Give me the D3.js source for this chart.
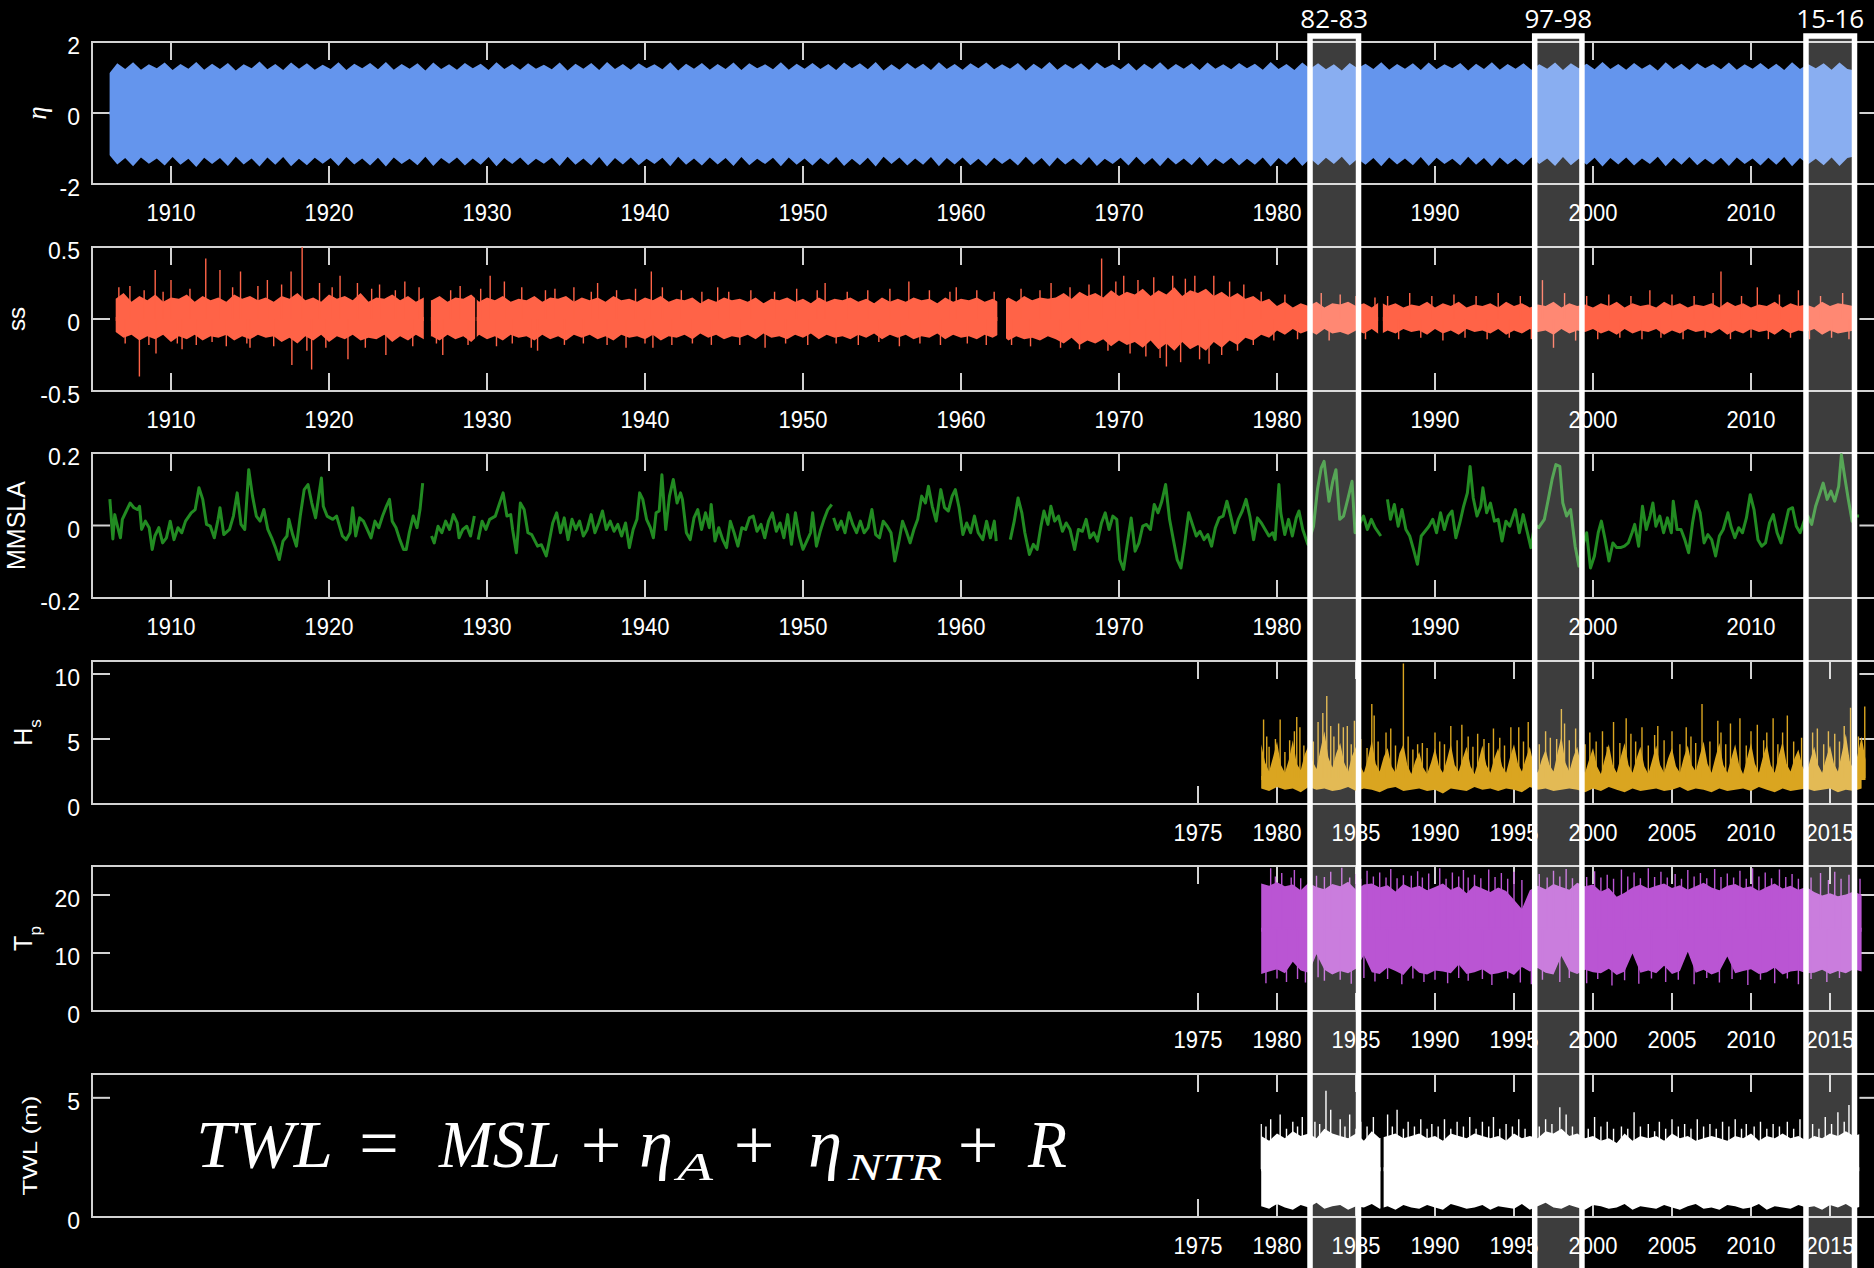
<!DOCTYPE html>
<html>
<head>
<meta charset="utf-8">
<script src="https://cdn.jsdelivr.net/npm/d3@7"></script>
<style>
  body { margin: 0; background: #000; }
  svg { display: block; }
</style>
</head>
<body>
<div id="chart"></div>
<script>
// ---- data ----

// upper axes ticks (decades) and lower axes ticks (5 yr)
var decadeTicks = [1910, 1920, 1930, 1940, 1950, 1960, 1970, 1980, 1990, 2000, 2010];
var waveTicks = [1975, 1980, 1985, 1990, 1995, 2000, 2005, 2010, 2015];

// highlighted ENSO winters
var boxLabels = ["82-83", "97-98", "15-16"];
var boxStart = [1982.09, 1996.31, 2013.48];
var boxEnd = [1985.16, 1999.30, 2016.55];

// eta (astronomical tide) envelope, half-year steps
var etaT0 = 1906.1, etaStep = 0.5, etaEnd = 2016.8;
var etaHi = [
  1.12,1.40,1.24,1.43,1.22,1.37,1.26,1.42,1.21,1.38, 1.25,1.44,1.22,1.39,1.24,1.41,1.20,1.37,1.26,1.45,
  1.23,1.38,1.21,1.42,1.25,1.40,1.22,1.36,1.24,1.43, 1.21,1.39,1.26,1.41,1.23,1.44,1.22,1.38,1.25,1.40,
  1.20,1.42,1.24,1.37,1.22,1.41,1.26,1.39,1.21,1.43, 1.24,1.38,1.22,1.40,1.25,1.36,1.23,1.42,1.20,1.39,
  1.25,1.41,1.21,1.44,1.24,1.38,1.22,1.40,1.26,1.37, 1.23,1.43,1.20,1.39,1.25,1.41,1.22,1.38,1.24,1.42,
  1.21,1.40,1.26,1.37,1.23,1.43,1.22,1.39,1.25,1.41, 1.24,1.38,1.21,1.42,1.26,1.40,1.23,1.44,1.20,1.37,
  1.22,1.41,1.25,1.39,1.21,1.43,1.24,1.38,1.22,1.40, 1.26,1.42,1.23,1.37,1.25,1.41,1.20,1.39,1.24,1.44,
  1.22,1.38,1.25,1.40,1.21,1.42,1.26,1.37,1.23,1.41, 1.20,1.39,1.24,1.43,1.22,1.38,1.25,1.40,1.21,1.42,
  1.25,1.37,1.23,1.41,1.26,1.39,1.22,1.44,1.24,1.38, 1.21,1.42,1.25,1.40,1.23,1.37,1.20,1.41,1.26,1.39,
  1.24,1.43,1.22,1.38,1.25,1.40,1.21,1.42,1.23,1.37, 1.26,1.41,1.20,1.39,1.24,1.43,1.22,1.38,1.25,1.40,
  1.22,1.37,1.25,1.42,1.21,1.40,1.26,1.39,1.23,1.44, 1.24,1.38,1.22,1.41,1.25,1.37,1.20,1.43,1.24,1.39,
  1.21,1.40,1.26,1.38,1.23,1.42,1.22,1.37,1.25,1.41, 1.23,1.39,1.21,1.43,1.24,1.38,1.26,1.40,1.22,1.42,
  1.24,1.20
];
var etaLo = [
  -1.18,-1.45,-1.27,-1.50,-1.25,-1.43,-1.28,-1.48,-1.24,-1.46, -1.29,-1.52,-1.26,-1.44,-1.27,-1.49,-1.23,-1.45,-1.28,-1.51,
  -1.25,-1.46,-1.24,-1.50,-1.29,-1.47,-1.26,-1.43,-1.27,-1.49, -1.24,-1.45,-1.28,-1.48,-1.26,-1.51,-1.25,-1.44,-1.29,-1.47,
  -1.23,-1.49,-1.27,-1.43,-1.25,-1.48,-1.28,-1.46,-1.24,-1.50, -1.27,-1.44,-1.25,-1.47,-1.29,-1.43,-1.26,-1.49,-1.23,-1.46,
  -1.28,-1.48,-1.24,-1.51,-1.27,-1.45,-1.25,-1.47,-1.29,-1.44, -1.26,-1.50,-1.23,-1.46,-1.28,-1.48,-1.25,-1.45,-1.27,-1.49,
  -1.24,-1.47,-1.29,-1.44,-1.26,-1.50,-1.25,-1.46,-1.28,-1.48, -1.27,-1.45,-1.24,-1.49,-1.29,-1.47,-1.26,-1.51,-1.23,-1.44,
  -1.25,-1.48,-1.28,-1.46,-1.24,-1.50,-1.27,-1.45,-1.25,-1.47, -1.29,-1.49,-1.26,-1.44,-1.28,-1.48,-1.23,-1.46,-1.27,-1.51,
  -1.25,-1.45,-1.28,-1.47,-1.24,-1.49,-1.29,-1.44,-1.26,-1.48, -1.23,-1.46,-1.27,-1.50,-1.25,-1.45,-1.28,-1.47,-1.24,-1.49,
  -1.28,-1.44,-1.26,-1.48,-1.29,-1.46,-1.25,-1.51,-1.27,-1.45, -1.24,-1.49,-1.28,-1.47,-1.26,-1.44,-1.23,-1.48,-1.29,-1.46,
  -1.27,-1.50,-1.25,-1.45,-1.28,-1.47,-1.24,-1.49,-1.26,-1.44, -1.29,-1.48,-1.23,-1.46,-1.27,-1.50,-1.25,-1.45,-1.28,-1.47,
  -1.25,-1.44,-1.28,-1.49,-1.24,-1.47,-1.29,-1.46,-1.26,-1.51, -1.27,-1.45,-1.25,-1.48,-1.28,-1.44,-1.23,-1.50,-1.27,-1.46,
  -1.24,-1.47,-1.29,-1.45,-1.26,-1.49,-1.25,-1.44,-1.28,-1.48, -1.26,-1.46,-1.24,-1.50,-1.27,-1.45,-1.29,-1.47,-1.25,-1.49,
  -1.27,-1.22
];

// ss (storm surge): half-year envelope + individual surge spikes
var ssT0 = 1906.5, ssStep = 0.5;
var ssSegments = [[1906.45, 1926.0], [1926.45, 1929.25], [1929.35, 1962.3], [1962.85, 1986.4], [1986.7, 2016.4]];
var ssHi = [
  0.14,0.18,0.12,0.16,0.13,0.17,0.12,0.15,0.14,0.17,0.12,0.16,0.13,0.15,0.12,0.17,0.14,0.16,0.13,0.15,
  0.12,0.16,0.14,0.18,0.13,0.15,0.12,0.17,0.14,0.16,0.13,0.18,0.12,0.15,0.14,0.17,0.13,0.16,0.12,0.15,
  0.13,0.16,0.12,0.15,0.14,0.17,0.12,0.15,0.13,0.16,0.12,0.14,0.13,0.16,0.12,0.15,0.14,0.16,0.12,0.15,
  0.13,0.15,0.12,0.16,0.13,0.14,0.12,0.15,0.13,0.16,0.12,0.14,0.13,0.15,0.11,0.14,0.12,0.15,0.13,0.14,
  0.12,0.15,0.11,0.14,0.13,0.15,0.12,0.14,0.11,0.15,0.12,0.14,0.13,0.15,0.12,0.14,0.11,0.15,0.12,0.14,
  0.12,0.15,0.13,0.14,0.11,0.15,0.12,0.14,0.13,0.15,0.12,0.14,0.11,0.15,0.12,0.16,0.13,0.15,0.14,
  0.15,0.18,0.14,0.19,0.16,0.18,0.15,0.20,0.16,0.19,0.17,0.21,0.16,0.20,0.17,0.22,0.16,0.20,0.18,0.21,
  0.16,0.19,0.15,0.18,0.14,0.16,0.12,0.14,
  0.09,0.12,0.08,0.11,0.09,0.12,0.08,0.11,0.10,0.12,0.09,0.11,0.08,0.12,0.09,0.11,0.08,0.10,0.09,0.12,
  0.08,0.11,0.09,0.12,0.08,0.10,0.09,0.11,0.08,0.12,0.09,0.11,0.08,0.10,0.09,0.12,0.08,0.11,0.09,0.10,
  0.08,0.11,0.09,0.12,0.08,0.11,0.09,0.10,0.08,0.12,0.09,0.11,0.08,0.10,0.09,0.11,0.08,0.12,0.09,0.11,
  0.08,0.10,0.09,0.12,0.08,0.11,0.09,0.10,0.08,0.12,0.09,0.11,0.10,0.09
];
var ssLo = [
  -0.09,-0.13,-0.11,-0.15,-0.12,-0.14,-0.11,-0.16,-0.12,-0.14,-0.11,-0.15,-0.12,-0.13,-0.11,-0.15,-0.12,-0.14,-0.11,-0.13,
  -0.12,-0.16,-0.13,-0.17,-0.12,-0.15,-0.11,-0.16,-0.12,-0.14,-0.11,-0.15,-0.13,-0.14,-0.11,-0.16,-0.12,-0.15,-0.11,-0.14,
  -0.12,-0.15,-0.11,-0.14,-0.12,-0.16,-0.11,-0.14,-0.12,-0.15,-0.11,-0.13,-0.12,-0.15,-0.11,-0.14,-0.12,-0.15,-0.11,-0.13,
  -0.11,-0.14,-0.12,-0.15,-0.11,-0.13,-0.12,-0.14,-0.11,-0.15,-0.12,-0.13,-0.11,-0.14,-0.10,-0.13,-0.11,-0.14,-0.12,-0.13,
  -0.11,-0.14,-0.10,-0.13,-0.12,-0.14,-0.11,-0.13,-0.10,-0.14,-0.11,-0.13,-0.12,-0.14,-0.11,-0.13,-0.10,-0.14,-0.11,-0.13,
  -0.11,-0.14,-0.12,-0.13,-0.10,-0.14,-0.11,-0.13,-0.12,-0.14,-0.11,-0.13,-0.10,-0.15,-0.12,-0.14,-0.13,-0.15,-0.12,
  -0.14,-0.17,-0.13,-0.18,-0.15,-0.17,-0.14,-0.19,-0.15,-0.18,-0.16,-0.20,-0.15,-0.21,-0.17,-0.22,-0.16,-0.21,-0.18,-0.22,
  -0.16,-0.20,-0.15,-0.18,-0.13,-0.15,-0.11,-0.13,
  -0.08,-0.11,-0.07,-0.10,-0.08,-0.11,-0.07,-0.10,-0.09,-0.11,-0.08,-0.10,-0.07,-0.11,-0.08,-0.10,-0.07,-0.09,-0.08,-0.11,
  -0.07,-0.10,-0.08,-0.11,-0.07,-0.09,-0.08,-0.10,-0.07,-0.11,-0.08,-0.10,-0.07,-0.09,-0.08,-0.11,-0.07,-0.10,-0.08,-0.09,
  -0.07,-0.10,-0.08,-0.11,-0.07,-0.10,-0.08,-0.09,-0.07,-0.11,-0.08,-0.10,-0.07,-0.09,-0.08,-0.10,-0.07,-0.11,-0.08,-0.10,
  -0.07,-0.09,-0.08,-0.11,-0.07,-0.10,-0.08,-0.09,-0.07,-0.11,-0.08,-0.10,-0.09,-0.08
];
var ssSpikes = [
  [1906.7,0.22],[1907.1,-0.17],[1907.4,0.23],[1908.0,-0.40],[1908.3,0.20],[1908.6,-0.18],[1909.0,0.34],[1909.05,-0.24],
  [1909.5,0.19],[1910.0,0.27],[1910.4,-0.17],[1910.7,-0.21],[1911.2,0.21],[1911.6,-0.18],[1912.2,0.42],[1912.6,-0.16],
  [1913.1,0.34],[1913.5,-0.19],[1913.9,0.22],[1914.4,0.33],[1914.8,-0.17],[1915.0,-0.20],[1915.5,0.23],[1916.1,0.27],
  [1916.5,-0.19],[1917.0,0.24],[1917.6,0.33],[1917.65,-0.32],[1918.3,0.50],[1918.6,-0.22],[1918.9,-0.35],[1919.4,0.25],
  [1919.8,-0.20],[1920.2,0.22],[1920.7,0.30],[1921.2,-0.28],[1921.8,0.25],[1922.3,-0.20],[1922.7,0.21],[1923.2,0.24],
  [1923.6,-0.25],[1924.2,0.20],[1924.8,0.26],[1925.3,-0.19],[1925.7,0.22],
  [1926.8,-0.17],[1927.2,-0.25],[1927.7,0.20],[1928.3,0.23],[1928.8,-0.18],[1929.6,0.21],[1930.2,0.30],[1930.6,-0.19],
  [1931.1,0.26],[1931.6,-0.17],[1932.2,0.22],[1932.8,-0.20],[1933.2,-0.22],[1933.7,0.20],[1934.3,0.21],[1934.9,-0.18],
  [1935.5,0.22],[1936.1,-0.17],[1936.6,0.19],[1937.0,0.25],[1937.6,-0.18],[1938.2,0.20],[1938.8,-0.20],[1939.4,0.21],
  [1940.0,-0.17],[1940.4,0.33],[1940.5,-0.20],[1941.1,0.22],[1941.7,-0.18],[1942.3,0.20],[1943.0,-0.17],[1943.6,0.19],
  [1944.2,-0.18],[1944.6,0.22],[1945.3,0.19],[1946.0,-0.18],[1946.7,0.20],[1947.6,-0.20],[1948.2,0.19],[1948.9,-0.17],
  [1949.6,0.21],[1950.3,-0.18],[1950.9,0.20],[1951.4,0.25],[1952.1,-0.17],[1952.8,0.19],[1953.5,-0.18],[1954.1,0.20],
  [1954.8,-0.16],[1955.5,0.21],[1956.1,-0.19],[1956.7,0.26],[1957.4,-0.17],[1958.0,0.20],[1958.7,-0.18],[1959.3,0.19],
  [1959.7,0.22],[1960.4,-0.17],[1961.0,0.20],[1961.6,-0.18],[1962.1,0.19],
  [1963.2,-0.18],[1963.8,0.21],[1964.4,-0.19],[1965.0,0.20],[1965.7,0.25],[1966.3,-0.20],[1966.9,0.22],[1967.5,-0.21],
  [1968.1,0.24],[1968.9,0.42],[1969.3,-0.22],[1969.8,0.26],[1970.3,0.30],[1970.7,-0.24],[1971.2,0.27],[1971.7,-0.26],
  [1972.2,0.29],[1972.6,-0.27],[1973.0,-0.33],[1973.4,0.30],[1973.9,-0.30],[1974.2,0.28],[1974.8,0.30],[1975.1,-0.28],
  [1975.7,-0.31],[1976.0,0.30],[1976.5,-0.25],[1977.0,0.26],[1977.5,-0.22],[1977.9,0.24],[1978.5,-0.18],[1979.0,0.19],
  [1979.8,-0.15],[1980.5,0.17],[1981.3,-0.14],[1982.0,0.16],[1982.8,0.18],[1983.3,-0.15],[1984.0,0.17],[1985.0,0.16],
  [1985.6,-0.14],[1986.2,0.15],
  [1987.0,0.16],[1987.7,-0.14],[1988.4,0.18],[1989.1,-0.13],[1989.8,0.16],[1990.5,-0.15],[1991.2,0.17],[1991.9,-0.13],
  [1992.6,0.16],[1993.3,-0.14],[1994.0,0.18],[1994.7,-0.13],[1995.4,0.16],[1996.1,-0.14],[1996.8,0.27],[1997.5,-0.20],
  [1998.2,0.18],[1998.9,-0.15],[1999.6,0.16],[2000.3,-0.14],[2001.0,0.17],[2001.7,-0.13],[2002.4,0.16],[2003.1,-0.14],
  [2003.6,0.20],[2004.3,-0.13],[2005.0,0.17],[2005.7,-0.14],[2006.4,0.16],[2007.1,-0.13],[2007.6,0.18],[2008.1,0.33],
  [2008.7,-0.14],[2009.4,0.16],[2010.0,-0.13],[2010.4,0.22],[2011.1,-0.14],[2011.8,0.17],[2012.5,-0.13],[2013.0,0.20],
  [2013.7,-0.14],[2014.4,0.16],[2015.1,-0.13],[2015.8,0.18],[2016.2,-0.14]
];

// MMSLA (monthly mean sea level anomaly), [year, value]; null marks a data gap
var mmsla = [
  [1906.13,0.073],[1906.32,-0.037],[1906.44,0.030],[1906.56,0.007],[1906.80,-0.034],[1906.92,0.017],[1907.17,0.040],[1907.41,0.062],
  [1907.65,0.049],[1907.89,0.044],[1908.01,0.053],[1908.14,-0.011],[1908.38,0.012],[1908.62,-0.006],[1908.81,-0.066],[1908.98,-0.029],
  [1909.23,-0.006],[1909.47,-0.048],[1909.71,-0.034],[1909.95,0.012],[1910.19,-0.039],[1910.44,-0.006],[1910.68,-0.020],[1910.92,0.012],
  [1911.28,0.035],[1911.53,0.044],[1911.77,0.104],[1912.01,0.072],[1912.25,0.003],[1912.49,-0.002],[1912.74,-0.034],[1912.98,0.017],
  [1913.10,0.049],[1913.34,-0.025],[1913.70,-0.011],[1913.95,0.026],[1914.19,0.090],[1914.43,0.003],[1914.67,-0.011],[1914.92,0.154],
  [1915.16,0.081],[1915.40,0.026],[1915.64,0.012],[1915.88,0.044],[1916.13,-0.011],[1916.37,-0.034],[1916.61,-0.061],[1916.85,-0.094],
  [1917.09,-0.043],[1917.34,-0.029],[1917.46,0.017],[1917.70,-0.025],[1917.94,-0.057],[1918.18,0.026],[1918.43,0.099],[1918.67,0.113],
  [1918.91,0.062],[1919.15,0.021],[1919.52,0.131],[1919.64,0.053],[1919.88,0.026],[1920.24,0.017],[1920.48,0.026],[1920.85,-0.029],
  [1921.09,-0.039],[1921.33,-0.020],[1921.50,0.049],[1921.69,-0.029],[1921.94,0.021],[1922.18,0.012],[1922.42,-0.011],[1922.66,-0.034],
  [1922.91,0.012],[1923.15,-0.006],[1923.39,0.026],[1923.63,0.053],[1923.83,0.072],[1924.00,0.012],[1924.24,-0.006],[1924.48,-0.039],
  [1924.72,-0.066],[1924.89,-0.066],[1925.08,-0.020],[1925.33,0.026],[1925.57,-0.006],[1925.76,0.044],[1925.93,0.117],[1926.2,null],
  [1926.49,-0.029],[1926.66,-0.048],[1926.90,-0.002],[1927.14,-0.020],[1927.38,0.012],[1927.63,-0.011],[1927.87,0.030],[1928.11,0.007],
  [1928.23,-0.034],[1928.47,-0.011],[1928.72,-0.002],[1928.96,-0.029],[1929.20,0.026],[1929.32,null],[1929.44,-0.039],[1929.69,0.012],
  [1929.93,-0.011],[1930.17,0.017],[1930.53,0.026],[1930.77,0.058],[1931.02,0.090],[1931.26,0.026],[1931.50,0.030],[1931.62,-0.011],
  [1931.86,-0.075],[1932.11,0.062],[1932.35,0.044],[1932.59,-0.020],[1932.83,-0.025],[1933.20,-0.057],[1933.44,-0.053],[1933.75,-0.084],
  [1933.92,-0.048],[1934.16,0.007],[1934.41,0.035],[1934.65,-0.020],[1934.89,0.021],[1935.13,-0.039],[1935.38,0.017],[1935.62,-0.011],
  [1935.86,0.012],[1936.10,-0.029],[1936.34,-0.011],[1936.59,0.030],[1936.83,-0.020],[1937.07,0.007],[1937.31,0.040],[1937.55,-0.011],
  [1937.80,0.012],[1938.04,-0.016],[1938.28,0.003],[1938.52,-0.029],[1938.77,0.007],[1939.01,-0.061],[1939.25,-0.011],[1939.49,0.017],
  [1939.66,0.090],[1939.86,0.072],[1940.10,0.017],[1940.34,-0.006],[1940.53,-0.034],[1940.70,0.035],[1940.90,0.040],[1941.07,0.140],
  [1941.31,-0.011],[1941.55,0.081],[1941.79,0.127],[1942.03,0.062],[1942.25,0.090],[1942.37,0.072],[1942.62,-0.020],[1942.86,-0.039],
  [1943.10,0.021],[1943.34,0.044],[1943.58,-0.011],[1943.83,0.035],[1944.07,-0.006],[1944.19,0.058],[1944.43,-0.043],[1944.67,-0.006],
  [1944.92,-0.039],[1945.16,-0.061],[1945.40,0.012],[1945.64,-0.020],[1945.88,-0.057],[1946.13,-0.006],[1946.37,-0.011],[1946.61,0.021],
  [1946.85,0.026],[1947.09,-0.016],[1947.34,0.003],[1947.58,-0.034],[1947.82,0.012],[1948.06,0.035],[1948.31,-0.016],[1948.55,0.007],
  [1948.79,-0.034],[1949.03,0.030],[1949.27,-0.052],[1949.52,0.035],[1949.76,-0.029],[1950.00,-0.066],[1950.24,-0.043],[1950.48,-0.020],
  [1950.61,0.035],[1950.85,-0.057],[1951.09,-0.016],[1951.33,0.017],[1951.57,0.044],[1951.82,0.058],[1951.88,null],[1951.94,0.021],
  [1952.18,-0.011],[1952.42,0.012],[1952.66,-0.020],[1952.91,0.035],[1953.15,0.003],[1953.39,-0.020],[1953.63,0.012],[1953.87,-0.020],
  [1954.12,-0.006],[1954.36,0.044],[1954.60,-0.025],[1954.84,-0.034],[1955.08,0.012],[1955.33,-0.002],[1955.57,-0.020],[1955.81,-0.098],
  [1956.05,-0.048],[1956.30,0.012],[1956.54,-0.016],[1956.78,-0.048],[1957.02,-0.011],[1957.26,0.017],[1957.51,0.081],[1957.75,0.062],
  [1957.94,0.108],[1958.18,0.053],[1958.43,0.012],[1958.72,0.099],[1958.96,0.049],[1959.20,0.040],[1959.44,0.081],[1959.64,0.099],
  [1959.88,0.049],[1960.12,-0.025],[1960.36,0.007],[1960.61,-0.020],[1960.85,0.026],[1961.09,-0.020],[1961.38,-0.039],[1961.62,0.012],
  [1961.86,-0.034],[1962.11,0.012],[1962.23,-0.043],[1962.6,null],[1963.12,-0.039],[1963.37,0.012],[1963.61,0.076],[1963.85,0.035],
  [1964.04,-0.020],[1964.33,-0.080],[1964.58,-0.052],[1964.82,-0.066],[1965.06,-0.002],[1965.25,0.040],[1965.50,0.003],[1965.69,0.053],
  [1965.93,0.012],[1966.17,0.026],[1966.42,-0.016],[1966.66,0.007],[1966.90,-0.011],[1967.19,-0.066],[1967.43,-0.011],[1967.68,-0.016],
  [1967.92,0.017],[1968.16,-0.034],[1968.40,-0.020],[1968.64,-0.043],[1968.89,0.007],[1969.13,0.035],[1969.37,-0.011],[1969.61,0.026],
  [1969.86,0.017],[1970.05,-0.094],[1970.29,-0.121],[1970.53,-0.048],[1970.77,0.021],[1971.02,-0.071],[1971.26,-0.048],[1971.50,-0.002],
  [1971.74,0.003],[1971.99,-0.011],[1972.23,0.058],[1972.47,0.035],[1972.71,0.067],[1972.95,0.113],[1973.20,0.017],[1973.44,-0.039],
  [1973.68,-0.094],[1973.92,-0.117],[1974.16,-0.048],[1974.41,0.035],[1974.65,0.003],[1974.89,-0.029],[1975.13,-0.016],[1975.38,-0.039],
  [1975.62,-0.025],[1975.86,-0.057],[1976.10,-0.006],[1976.34,0.021],[1976.59,0.026],[1976.83,0.067],[1977.07,0.026],[1977.31,-0.020],
  [1977.55,0.017],[1977.80,0.040],[1978.04,0.072],[1978.28,0.026],[1978.52,-0.039],[1978.76,0.021],[1979.01,0.007],[1979.25,-0.011],
  [1979.49,-0.029],[1979.73,-0.020],[1979.88,-0.039],[1980.12,0.113],[1980.24,0.035],[1980.49,-0.025],[1980.73,0.017],[1980.97,-0.029],
  [1981.22,0.021],[1981.39,0.040],[1981.63,-0.011],[1981.95,-0.052],[1982.31,-0.002],[1982.56,0.099],[1982.80,0.159],[1982.98,0.177],
  [1983.29,0.067],[1983.53,0.122],[1983.73,0.154],[1983.97,0.017],[1984.21,0.026],[1984.50,0.076],[1984.75,0.122],[1984.94,-0.020],
  [1985.19,0.003],[1985.48,0.026],[1985.72,-0.011],[1985.97,0.017],[1986.21,-0.006],[1986.57,-0.029],[1986.8,null],[1986.99,0.072],
  [1987.18,0.017],[1987.43,0.058],[1987.67,-0.002],[1987.91,0.044],[1988.16,-0.011],[1988.40,-0.029],[1988.64,-0.066],[1988.89,-0.107],
  [1989.13,-0.029],[1989.37,-0.016],[1989.62,-0.002],[1989.86,0.017],[1990.10,-0.020],[1990.35,0.035],[1990.59,-0.011],[1990.83,0.026],
  [1991.08,0.040],[1991.32,-0.034],[1991.57,0.007],[1991.81,0.053],[1992.05,0.090],[1992.22,0.163],[1992.42,0.076],[1992.66,0.026],
  [1992.90,0.053],[1993.03,0.104],[1993.27,0.035],[1993.51,0.062],[1993.76,0.012],[1994.00,0.017],[1994.24,-0.043],[1994.49,0.012],
  [1994.73,-0.002],[1995.09,0.044],[1995.34,-0.020],[1995.58,0.030],[1995.83,-0.016],[1996.07,-0.061],[1996.31,0.003],[1996.56,-0.006],
  [1996.92,0.017],[1997.17,0.072],[1997.41,0.127],[1997.65,0.168],[1997.90,0.163],[1998.09,0.062],[1998.33,0.026],[1998.58,0.044],
  [1998.87,-0.057],[1999.11,-0.112],[1999.24,-0.071],[1999.60,-0.020],[1999.84,-0.117],[2000.09,-0.084],[2000.33,-0.020],[2000.53,0.012],
  [2000.77,-0.039],[2001.01,-0.098],[2001.26,-0.048],[2001.50,-0.061],[2001.74,-0.061],[2001.99,-0.057],[2002.23,-0.048],[2002.47,-0.020],
  [2002.64,0.003],[2002.89,-0.057],[2003.13,0.053],[2003.37,-0.011],[2003.61,0.026],[2003.79,0.062],[2003.98,-0.002],[2004.23,0.026],
  [2004.47,-0.020],[2004.71,0.021],[2004.96,-0.020],[2005.08,0.067],[2005.32,-0.011],[2005.57,-0.011],[2005.81,-0.039],[2006.05,-0.075],
  [2006.30,0.007],[2006.54,0.067],[2006.78,0.035],[2007.03,-0.048],[2007.27,-0.025],[2007.51,-0.039],[2007.76,-0.084],[2008.00,-0.029],
  [2008.24,-0.011],[2008.54,0.035],[2008.73,-0.002],[2008.98,-0.034],[2009.22,-0.006],[2009.46,-0.020],[2009.71,0.021],[2009.95,0.085],
  [2010.19,0.044],[2010.44,-0.039],[2010.68,-0.057],[2010.92,-0.048],[2011.17,0.007],[2011.41,0.030],[2011.65,-0.020],[2011.90,-0.048],
  [2012.14,-0.002],[2012.38,0.044],[2012.63,0.049],[2012.87,-0.002],[2013.11,-0.020],[2013.36,0.012],[2013.60,0.026],[2013.84,0.003],
  [2014.09,0.053],[2014.33,0.085],[2014.57,0.117],[2014.82,0.072],[2015.06,0.095],[2015.30,0.067],[2015.55,0.108],[2015.72,0.195],
  [2015.91,0.140],[2016.16,0.072],[2016.40,0.012],[2016.64,0.026],[2016.84,0.026]
];

// Hs (significant wave height): quarter-year upper envelope, half-year lower envelope, storm peaks
var hsT0 = 1979.0, hsHiStep = 0.25, hsLoStep = 0.5, hsEnd = 2017.3;
var hsHi = [
  4.6,3.2,2.5,3.6, 4.8,3.0,2.4,3.4, 4.9,3.1,2.6,3.8, 4.5,3.3,2.7,4.2, 5.6,3.6,2.8,3.9,
  4.7,3.2,2.5,3.7, 4.4,3.0,2.4,3.5, 4.9,3.1,2.5,3.6, 4.3,2.9,2.4,3.9, 4.6,3.0,2.3,3.3,
  4.0,2.8,2.3,3.2, 4.3,2.9,2.4,3.4, 4.6,3.0,2.5,3.5, 4.4,2.9,2.3,3.3, 4.5,3.0,2.4,3.5,
  4.3,2.9,2.4,3.6, 4.6,3.1,2.5,3.5, 4.4,3.0,2.4,3.4, 4.2,3.0,2.5,3.9, 5.2,3.2,2.5,3.6,
  4.4,2.9,2.4,3.4, 4.3,2.9,2.3,3.5, 4.6,3.0,2.4,3.6, 4.7,3.0,2.4,3.5, 4.4,2.9,2.3,3.4,
  4.5,3.0,2.4,3.5, 4.3,2.9,2.4,3.6, 4.5,3.0,2.5,3.7, 4.8,3.1,2.4,3.6, 4.7,3.0,2.4,3.5,
  4.6,3.0,2.3,3.5, 4.7,3.1,2.4,3.6, 4.6,3.0,2.4,3.7, 4.8,3.1,2.5,3.5, 4.2,2.9,2.3,3.4,
  4.4,3.0,2.4,3.5, 4.5,3.1,2.5,3.9, 5.4,3.3,2.6,3.8, 5.2,3.4
];
var hsLo = [
  1.2,1.0,1.3,1.1,1.2,0.9,1.3,1.1,1.2,1.0, 1.1,1.3,1.0,1.2,1.1,0.9,1.2,1.3,1.0,1.1,
  1.2,1.0,1.1,0.8,1.2,1.1,1.0,1.3,1.1,1.2, 1.0,1.2,1.1,0.9,1.3,1.1,1.2,1.0,1.1,1.2,
  1.1,0.9,1.2,1.0,1.3,1.1,0.9,1.2,1.0,1.1, 1.2,1.0,1.1,1.3,1.0,1.2,1.1,0.9,1.2,1.0,
  1.1,1.2,1.0,1.3,1.1,0.9,1.2,1.0,1.1,1.2, 1.0,1.1,1.2,0.9,1.1,1.0,1.2
];
var hsSpikes = [
  [1979.15,6.5],[1979.35,5.2],[1979.9,5.0],[1980.2,6.5],[1980.8,4.9],[1981.1,5.6],[1981.25,6.7],[1981.45,5.9],
  [1982.0,5.3],[1982.6,6.3],[1982.9,7.0],[1983.15,8.3],[1983.4,6.0],[1983.9,6.2],[1984.2,5.9],[1984.45,6.0],
  [1984.9,6.4],[1985.3,5.0],[1986.0,7.7],[1986.15,6.8],[1986.9,5.5],[1987.2,5.8],[1988.0,10.8],[1988.3,5.2],
  [1988.9,4.6],[1989.2,4.7],[1990.0,5.5],[1990.3,4.8],[1991.0,6.0],[1991.7,6.1],[1992.1,5.2],[1992.7,5.4],
  [1993.1,5.0],[1993.7,5.8],[1994.1,5.1],[1994.8,5.9],[1995.3,5.9],[1995.9,6.3],[1996.2,5.4],[1997.0,5.6],
  [1997.3,5.1],[1998.0,7.3],[1998.2,6.2],[1998.9,5.8],[1999.2,5.0],[1999.8,5.5],[2000.6,5.6],[2001.3,6.3],
  [2002.1,6.6],[2002.4,5.4],[2003.1,5.9],[2003.9,5.3],[2004.1,6.0],[2005.0,5.6],[2005.9,5.9],[2006.2,5.2],
  [2006.9,7.7],[2007.9,6.4],[2008.1,5.5],[2008.7,6.2],[2009.3,6.6],[2010.0,5.6],[2010.4,6.1],[2011.0,5.5],
  [2011.4,6.6],[2012.0,5.5],[2012.3,6.8],[2013.2,5.1],[2013.9,5.5],[2014.2,5.8],[2014.9,5.6],[2015.3,5.4],
  [2015.9,6.0],[2016.3,7.4],[2016.5,6.1],[2017.2,7.5],
  [1979.5,4.4],[1980.5,4.0],[1981.7,4.5],[1982.3,4.8],[1983.6,5.2],[1984.7,4.6],[1985.7,4.3],[1986.4,4.8],
  [1987.5,4.5],[1988.6,4.2],[1989.5,4.3],[1990.6,4.6],[1991.4,4.9],[1992.4,4.4],[1993.4,4.7],[1994.4,4.5],
  [1995.6,4.8],[1996.6,4.6],[1997.7,5.0],[1998.5,4.9],[1999.5,4.6],[2000.2,4.8],[2000.9,4.4],[2001.7,4.7],
  [2002.7,4.8],[2003.5,4.5],[2004.5,4.9],[2005.5,4.6],[2006.5,4.7],[2007.4,4.8],[2008.4,4.6],[2009.7,4.5],
  [2010.8,4.9],[2011.7,4.6],[2012.7,4.8],[2013.5,4.3],[2014.6,4.6],[2015.6,4.8],[2016.8,5.2]
];

// Tp (peak period): half-year envelopes + extremes
var tpT0 = 1979.0, tpStep = 0.5, tpEnd = 2017.3;
var tpHi = [
  22.0,21.6,22.2,21.5,21.8,20.8,22.1,21.4,21.0,21.9, 21.5,22.3,20.9,21.8,22.0,21.3,21.7,20.6,21.9,21.2,
  21.6,20.8,21.4,22.0,20.9,21.5,20.3,21.7,21.1,20.5, 21.3,20.7,19.2,17.6,20.8,21.6,21.0,21.9,21.4,20.9,
  22.1,21.5,21.8,20.6,21.2,19.7,20.4,21.3,21.8,21.1, 21.6,22.0,21.2,21.7,20.9,21.5,22.1,21.3,20.8,21.6,
  21.9,21.2,21.5,20.7,21.4,22.0,21.1,21.6,20.9,21.4, 20.5,19.9,20.3,19.8,20.1,20.6,20.0
];
var tpLo = [
  6.4,6.8,7.2,6.5,8.5,7.0,6.6,9.8,7.1,6.3, 6.9,6.5,7.3,9.6,6.7,6.4,7.5,6.9,6.2,7.8,
  6.6,6.3,7.0,6.8,6.5,8.0,6.4,6.7,7.2,6.3, 6.5,6.9,6.2,7.6,6.8,7.4,6.6,6.3,9.5,6.9,
  6.4,7.1,6.7,6.5,7.3,6.2,6.8,9.9,6.6,7.0, 6.5,7.8,6.4,6.9,10.2,6.6,7.1,6.3,6.8,9.4,
  6.5,6.9,7.2,6.4,6.7,7.5,6.3,6.8,7.0,6.5, 6.6,7.1,6.4,6.9,6.5,7.2,6.8
];
var tpSpikes = [
  [1979.6,24.6],[1980.3,23.8],[1981.1,24.3],[1982.0,23.5],[1983.4,24.0],[1984.1,24.7],[1985.0,23.6],[1985.7,24.2],
  [1986.5,23.9],[1987.2,24.5],[1988.0,23.4],[1988.9,24.1],[1989.6,23.7],[1990.3,24.6],[1991.1,23.9],[1991.8,24.3],
  [1992.5,23.5],[1993.4,24.4],[1994.2,23.8],[1995.0,24.0],[1996.6,23.6],[1997.5,24.2],[1998.3,24.5],[1999.2,23.7],
  [2000.1,24.1],[2000.9,23.5],[2001.8,24.4],[2002.6,23.9],[2003.5,24.6],[2004.3,24.0],[2005.2,23.6],[2006.0,24.3],
  [2006.8,23.8],[2007.7,24.5],[2008.5,23.7],[2009.3,24.2],[2010.1,24.6],[2010.9,23.9],[2011.8,24.4],[2012.6,23.6],
  [2013.4,24.1],[2014.4,23.8],[2015.3,24.0],[2016.2,23.5],[2016.9,22.8],
  [1979.9,23.2],[1980.9,23.0],[1981.5,22.9],[1982.5,23.3],[1983.0,23.1],[1984.6,23.0],[1985.3,22.8],[1986.1,23.2],
  [1986.9,23.0],[1987.6,22.9],[1988.5,23.3],[1989.2,23.0],[1990.7,22.8],[1991.5,23.2],[1992.1,23.0],[1992.9,22.9],
  [1993.8,23.1],[1994.6,22.8],[1995.5,22.6],[1997.1,23.0],[1997.9,23.2],[1998.7,22.9],[1999.6,23.1],[2000.5,23.0],
  [2001.3,22.8],[2002.2,23.2],[2003.0,22.9],[2003.9,23.1],[2004.7,23.0],[2005.6,22.8],[2006.4,23.2],[2007.2,22.9],
  [2008.1,23.1],[2008.9,23.0],[2009.7,22.8],[2010.5,23.2],[2011.3,22.9],[2012.2,23.1],[2013.0,22.8],[2013.8,23.0],
  [2014.9,22.6],[2015.7,22.8],[2016.5,22.5],
  [1979.3,4.8],[1980.6,5.0],[1981.8,4.9],[1983.0,5.2],[1984.7,4.7],[1986.2,5.1],[1987.9,4.6],[1989.3,5.0],
  [1990.8,4.8],[1992.1,5.2],[1993.6,4.5],[1995.4,4.9],[1996.1,4.6],[1997.9,5.0],[1999.6,4.8],[2001.2,4.4],
  [2002.9,4.7],[2004.6,5.0],[2006.4,4.6],[2008.0,4.9],[2009.8,4.5],[2011.5,4.8],[2013.0,4.6],[2014.8,5.0],[2016.5,4.7],
  [1980.0,5.6],[1981.3,5.5],[1982.6,5.8],[1984.0,5.4],[1985.5,5.7],[1987.0,5.5],[1988.6,5.6],[1990.0,5.4],
  [1991.5,5.7],[1993.0,5.5],[1994.6,5.6],[1996.8,5.4],[1998.5,5.7],[2000.3,5.5],[2002.0,5.3],[2003.7,5.6],
  [2005.4,5.4],[2007.2,5.7],[2008.8,5.5],[2010.6,5.4],[2012.3,5.6],[2013.8,5.5],[2015.6,5.7]
];

// TWL (total water level): half-year envelopes + peaks
var twlT0 = 1979.0, twlStep = 0.5;
var twlSegments = [[1978.95, 1986.55], [1986.75, 2016.85]];
var twlHi = [
  3.4,3.2,3.5,3.3,3.6,3.4,3.5,3.3,3.7,3.5, 3.4,3.3,3.5,3.2,3.6,3.3,3.4,3.5,3.3,3.4,
  3.5,3.3,3.4,3.2,3.5,3.4,3.3,3.5,3.4,3.3, 3.4,3.2,3.5,3.3,3.4,3.3,3.6,3.5,3.7,3.4,
  3.5,3.3,3.4,3.2,3.3,3.1,3.5,3.2,3.4,3.3, 3.4,3.2,3.5,3.3,3.4,3.2,3.3,3.4,3.3,3.2,
  3.4,3.3,3.5,3.2,3.4,3.3,3.5,3.3,3.4,3.2, 3.4,3.3,3.5,3.4,3.6,3.4,3.5
];
var twlLo = [
  0.45,0.35,0.55,0.40,0.30,0.50,0.40,0.60,0.35,0.45, 0.50,0.30,0.45,0.40,0.55,0.35,0.45,0.30,0.50,0.40,
  0.35,0.50,0.40,0.30,0.55,0.45,0.35,0.40,0.50,0.30, 0.45,0.40,0.35,0.55,0.30,0.45,0.60,0.40,0.35,0.50,
  0.40,0.30,0.50,0.45,0.35,0.40,0.55,0.30,0.45,0.40, 0.35,0.50,0.40,0.30,0.45,0.55,0.35,0.40,0.30,0.50,
  0.45,0.35,0.40,0.55,0.30,0.45,0.40,0.35,0.50,0.40, 0.45,0.30,0.50,0.40,0.55,0.35,0.45
];
var twlSpikes = [
  [1979.0,3.9],[1979.6,4.1],[1980.2,4.3],[1981.0,4.0],[1981.6,4.2],[1982.4,4.0],[1983.1,5.3],[1983.4,4.5],
  [1984.0,4.1],[1984.6,4.3],[1985.3,4.0],[1986.1,4.2],[1987.0,4.3],[1987.6,4.5],[1988.3,4.0],[1989.1,4.1],
  [1989.8,3.9],[1990.6,4.1],[1991.4,4.0],[1992.2,4.2],[1993.0,4.0],[1993.7,4.2],[1994.5,3.9],[1995.3,4.1],
  [1996.2,4.0],[1997.0,4.1],[1997.9,4.6],[1998.3,4.3],[1999.3,4.0],[2000.1,4.2],[2000.9,4.0],[2002.6,4.4],
  [2003.5,3.9],[2004.2,4.0],[2005.0,4.1],[2005.8,3.9],[2006.6,4.1],[2007.4,3.9],[2008.2,4.0],[2009.0,4.1],
  [2009.7,3.9],[2010.6,4.0],[2011.4,3.9],[2012.3,4.0],[2013.1,4.1],[2013.9,3.9],[2014.7,4.2],[2015.5,4.4],[2016.2,4.7],
  [1979.3,3.8],[1980.6,3.7],[1981.3,3.8],[1982.0,3.7],[1982.7,3.9],[1984.3,3.8],[1985.0,3.7],[1985.7,3.8],
  [1987.3,3.8],[1988.0,3.7],[1988.7,3.8],[1989.5,3.7],[1990.2,3.8],[1991.0,3.7],[1991.8,3.8],[1992.6,3.7],
  [1993.4,3.8],[1994.1,3.7],[1994.9,3.8],[1995.7,3.7],[1996.6,3.8],[1997.4,3.9],[1998.7,3.8],[1999.7,3.7],
  [2000.5,3.8],[2001.3,3.7],[2001.8,3.8],[2002.2,3.7],[2003.0,3.8],[2003.9,3.6],[2004.6,3.7],[2005.4,3.8],
  [2006.2,3.7],[2007.0,3.8],[2007.8,3.7],[2008.6,3.8],[2009.4,3.7],[2010.2,3.8],[2011.0,3.7],[2011.8,3.8],
  [2012.7,3.7],[2013.5,3.8],[2014.3,3.7],[2015.1,3.9],[2015.9,4.0]
];

// ---- layout ----
var svgWidth = 1874;
var svgHeight = 1268;
var tickLen = 18;
var frameColor = "#d2d2d2";
var tickFont = "'Liberation Sans', Arial, sans-serif";

var panelTop = [42, 247, 453, 661, 866, 1074];
var panelBottom = [184, 391, 598, 804, 1011, 1217];

var svg = d3.select("#chart")
    .append("svg")
    .attr("width", svgWidth)
    .attr("height", svgHeight);

svg.append("rect").attr("width", svgWidth).attr("height", svgHeight).attr("fill", "#000");

var defs = svg.append("defs");

// shared time axis for all six panels
var x = d3.scaleLinear().domain([1905, 2018]).range([92, 1877.4]);

function makeY(i, domain) {
    return d3.scaleLinear().domain(domain).range([panelBottom[i], panelTop[i]]);
}

function drawFrame(i, y, yTicks, yTickLabels, xTicks) {
    var g = svg.append("g");
    var left = x.range()[0], right = x.range()[1];
    var top = panelTop[i], bottom = panelBottom[i];

    g.append("rect")
        .attr("x", left).attr("y", top)
        .attr("width", right - left).attr("height", bottom - top)
        .attr("fill", "none").attr("stroke", frameColor).attr("stroke-width", 2);

    // x ticks top and bottom, inward
    xTicks.forEach(function (t) {
        g.append("line").attr("x1", x(t)).attr("x2", x(t)).attr("y1", bottom).attr("y2", bottom - tickLen)
            .attr("stroke", frameColor).attr("stroke-width", 2);
        g.append("line").attr("x1", x(t)).attr("x2", x(t)).attr("y1", top).attr("y2", top + tickLen)
            .attr("stroke", frameColor).attr("stroke-width", 2);
        g.append("text")
            .attr("transform", "translate(" + x(t) + "," + (bottom + 37) + ") scale(1,1.12)")
            .attr("text-anchor", "middle")
            .attr("fill", "#fff")
            .style("font-family", tickFont).style("font-size", "22px")
            .text(t);
    });

    // y ticks left and right, inward
    yTicks.forEach(function (v, k) {
        g.append("line").attr("x1", left).attr("x2", left + tickLen).attr("y1", y(v)).attr("y2", y(v))
            .attr("stroke", frameColor).attr("stroke-width", 2);
        g.append("line").attr("x1", right).attr("x2", right - tickLen).attr("y1", y(v)).attr("y2", y(v))
            .attr("stroke", frameColor).attr("stroke-width", 2);
        g.append("text")
            .attr("x", 80).attr("y", y(v) + 12)
            .attr("text-anchor", "end")
            .attr("fill", "#fff")
            .style("font-family", tickFont).style("font-size", "23px")
            .text(yTickLabels[k]);
    });
}

function clipFor(id, i, segments) {
    var cp = defs.append("clipPath").attr("id", id);
    segments.forEach(function (s) {
        cp.append("rect")
            .attr("x", x(s[0])).attr("y", panelTop[i] - 5)
            .attr("width", x(s[1]) - x(s[0]))
            .attr("height", panelBottom[i] - panelTop[i] + 10);
    });
    return "url(#" + id + ")";
}

// area from a mid value out to an envelope (overlaps the mid a little so no seam shows)
function drawEnvelope(g, t0, step, vals, mid, y, color) {
    var pts = vals.map(function (v, k) { return [t0 + k * step, v]; });
    var overlap = vals[0] > mid ? 2 : -2;
    var area = d3.area()
        .x(function (d) { return x(d[0]); })
        .y0(y(mid) + overlap)
        .y1(function (d) { return y(d[1]); });
    g.append("path").datum(pts).attr("d", area).attr("fill", color);
}

function drawSpikes(g, spikes, mid, y, color, w) {
    g.selectAll("line.spike").data(spikes).enter()
        .append("line").attr("class", "spike")
        .attr("x1", function (d) { return x(d[0]); })
        .attr("x2", function (d) { return x(d[0]); })
        .attr("y1", y(mid))
        .attr("y2", function (d) { return y(d[1]); })
        .attr("stroke", color).attr("stroke-width", w);
}

function yLabel(cx, cy, parts, len) {
    var t = svg.append("text")
        .attr("transform", "translate(" + cx + "," + cy + ") rotate(-90)")
        .attr("text-anchor", "middle")
        .attr("fill", "#fff");
    parts.forEach(function (p) {
        var s = t.append("tspan").text(p.text)
            .style("font-family", p.family || tickFont)
            .style("font-size", p.size + "px");
        if (p.italic) s.style("font-style", "italic");
        if (p.dy) s.attr("dy", p.dy);
    });
    if (len) t.attr("textLength", len).attr("lengthAdjust", "spacingAndGlyphs");
}

// ---- panel 1: eta ----
var yEta = makeY(0, [-2, 2]);
drawFrame(0, yEta, [-2, 0, 2], ["-2", "0", "2"], decadeTicks);
var gEta = svg.append("g").attr("clip-path", clipFor("clipEta", 0, [[etaT0, etaEnd]]));
drawEnvelope(gEta, etaT0, etaStep, etaHi, 0, yEta, "#6495ED");
drawEnvelope(gEta, etaT0, etaStep, etaLo, 0, yEta, "#6495ED");
yLabel(46, (panelTop[0] + panelBottom[0]) / 2, [{ text: "η", size: 27, italic: true, family: "'Liberation Serif', serif" }]);

// ---- panel 2: ss ----
var ySs = makeY(1, [-0.5, 0.5]);
drawFrame(1, ySs, [-0.5, 0, 0.5], ["-0.5", "0", "0.5"], decadeTicks);
var gSs = svg.append("g").attr("clip-path", clipFor("clipSs", 1, ssSegments));
drawEnvelope(gSs, ssT0, ssStep, ssHi, 0, ySs, "#FF6347");
drawEnvelope(gSs, ssT0, ssStep, ssLo, 0, ySs, "#FF6347");
drawSpikes(gSs, ssSpikes, 0, ySs, "#FF6347", 1.4);
yLabel(25, (panelTop[1] + panelBottom[1]) / 2, [{ text: "ss", size: 24 }]);

// ---- panel 3: MMSLA ----
var yMm = makeY(2, [-0.2, 0.2]);
drawFrame(2, yMm, [-0.2, 0, 0.2], ["-0.2", "0", "0.2"], decadeTicks);
var line = d3.line()
    .defined(function (d) { return d[1] !== null; })
    .x(function (d) { return x(d[0]); })
    .y(function (d) { return yMm(d[1]); });
svg.append("path").datum(mmsla)
    .attr("d", line)
    .attr("fill", "none")
    .attr("stroke", "#228B22")
    .attr("stroke-width", 3)
    .attr("stroke-linejoin", "round");
yLabel(25, (panelTop[2] + panelBottom[2]) / 2, [{ text: "MMSLA", size: 25 }]);

// ---- panel 4: Hs ----
var yHs = makeY(3, [0, 11]);
drawFrame(3, yHs, [0, 5, 10], ["0", "5", "10"], waveTicks);
var gHs = svg.append("g").attr("clip-path", clipFor("clipHs", 3, [[1978.95, hsEnd]]));
drawEnvelope(gHs, hsT0, hsHiStep, hsHi, 2, yHs, "#DAA520");
drawEnvelope(gHs, hsT0, hsLoStep, hsLo, 2, yHs, "#DAA520");
drawSpikes(gHs, hsSpikes, 2, yHs, "#DAA520", 1.4);
yLabel(32, (panelTop[3] + panelBottom[3]) / 2, [{ text: "H", size: 25 }, { text: "s", size: 17, dy: 9 }]);

// ---- panel 5: Tp ----
var yTp = makeY(4, [0, 25]);
drawFrame(4, yTp, [0, 10, 20], ["0", "10", "20"], waveTicks);
var gTp = svg.append("g").attr("clip-path", clipFor("clipTp", 4, [[1978.95, tpEnd]]));
drawEnvelope(gTp, tpT0, tpStep, tpHi, 14, yTp, "#BA55D3");
drawEnvelope(gTp, tpT0, tpStep, tpLo, 14, yTp, "#BA55D3");
drawSpikes(gTp, tpSpikes, 14, yTp, "#BA55D3", 1.4);
yLabel(32, (panelTop[4] + panelBottom[4]) / 2, [{ text: "T", size: 25 }, { text: "p", size: 17, dy: 9 }]);

// ---- panel 6: TWL ----
var yTwl = makeY(5, [0, 6]);
drawFrame(5, yTwl, [0, 5], ["0", "5"], waveTicks);
var gTwl = svg.append("g").attr("clip-path", clipFor("clipTwl", 5, twlSegments));
drawEnvelope(gTwl, twlT0, twlStep, twlHi, 2, yTwl, "#ffffff");
drawEnvelope(gTwl, twlT0, twlStep, twlLo, 2, yTwl, "#ffffff");
drawSpikes(gTwl, twlSpikes, 2, yTwl, "#ffffff", 1.4);
yLabel(37, (panelTop[5] + panelBottom[5]) / 2, [{ text: "TWL (m)", size: 20 }], 100);

// equation written on the TWL panel
var eqFont = "'Liberation Serif', 'DejaVu Serif', serif";
var eq = [
    { t: "TWL", cx: 264.5, w: 137, y: 1167, size: 68, it: true },
    { t: "=", cx: 379, y: 1167, size: 70 },
    { t: "MSL", cx: 500, w: 122, y: 1167, size: 68, it: true },
    { t: "+", cx: 601, y: 1169, size: 72 },
    { t: "η", cx: 656, y: 1167, size: 68, it: true },
    { t: "A", cx: 695, w: 36, y: 1180, size: 40, it: true },
    { t: "+", cx: 754, y: 1169, size: 72 },
    { t: "η", cx: 825, y: 1167, size: 68, it: true },
    { t: "NTR", cx: 895, w: 94, y: 1180, size: 38, it: true },
    { t: "+", cx: 978, y: 1169, size: 72 },
    { t: "R", cx: 1047.5, w: 39, y: 1167, size: 68, it: true }
];
eq.forEach(function (e) {
    var t = svg.append("text")
        .attr("x", e.cx).attr("y", e.y)
        .attr("text-anchor", "middle")
        .attr("fill", "#fff")
        .style("font-family", eqFont)
        .style("font-size", e.size + "px")
        .text(e.t);
    if (e.it) t.style("font-style", "italic");
    if (e.w) t.attr("textLength", e.w).attr("lengthAdjust", "spacingAndGlyphs");
});

// ---- highlighted periods over everything ----
boxLabels.forEach(function (lab, k) {
    var x0 = x(boxStart[k]), x1 = x(boxEnd[k]);
    svg.append("rect")
        .attr("x", x0).attr("y", 36)
        .attr("width", x1 - x0).attr("height", svgHeight)
        .attr("fill", "#fff").attr("fill-opacity", 0.24)
        .attr("stroke", "#fff").attr("stroke-width", 5.5);
    svg.append("text")
        .attr("x", (x0 + x1) / 2).attr("y", 28)
        .attr("text-anchor", "middle")
        .attr("fill", "#fff")
        .style("font-family", "'Open Sans', 'Noto Sans', sans-serif")
        .style("font-size", "26px")
        .text(lab);
});
</script>
</body>
</html>
